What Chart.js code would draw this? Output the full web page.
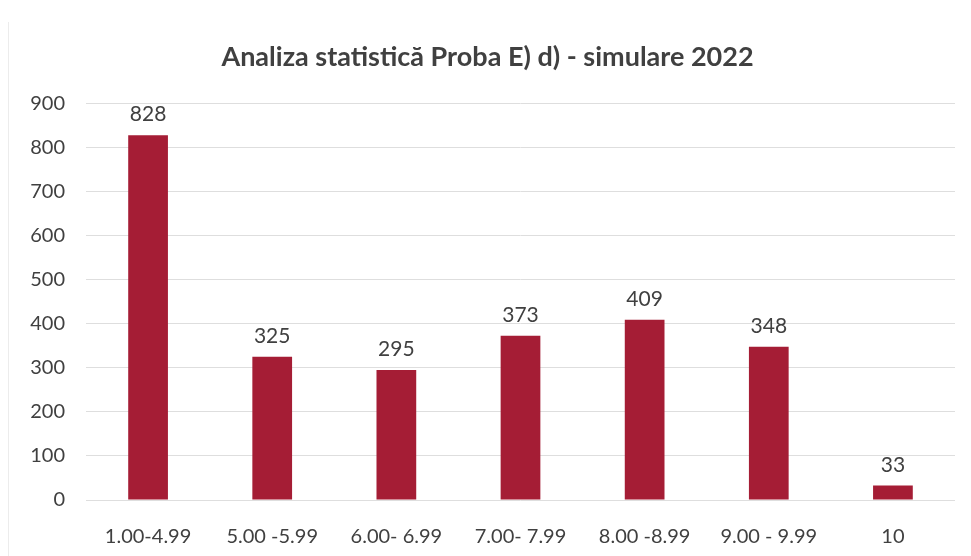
<!DOCTYPE html>
<html>
<head>
<meta charset="utf-8">
<script src="https://cdn.jsdelivr.net/npm/chart.js@4.4.1/dist/chart.umd.min.js"></script>
<style>
  html, body { margin: 0; padding: 0; background: #fff; }
  #wrap { position: relative; width: 971px; height: 556px; }
  #edge { position: absolute; left: 8px; top: 22px; width: 0; height: 534px; border-left: 1px solid #ececec; }
</style>
</head>
<body>
<div id="wrap">
  <div id="edge"></div>
  <canvas id="grades" width="971" height="556"></canvas>
</div>
<script>
// categories (grade intervals) and number of students
const intervals = ['1.00-4.99', '5.00 -5.99', '6.00- 6.99', '7.00- 7.99', '8.00 -8.99', '9.00 - 9.99', '10'];
const students = [828, 325, 295, 373, 409, 348, 33];
const yTicks = [0, 100, 200, 300, 400, 500, 600, 700, 800, 900];

const FONT = 'Lato, "Open Sans", sans-serif';

// draw the value above every bar
const valueLabels = {
  id: 'valueLabels',
  afterDatasetsDraw(chart) {
    const ctx = chart.ctx;
    const meta = chart.getDatasetMeta(0);
    ctx.save();
    ctx.font = '21px ' + FONT;
    ctx.fillStyle = '#404040';
    ctx.textAlign = 'center';
    ctx.textBaseline = 'bottom';
    meta.data.forEach((bar, i) => {
      ctx.fillText(students[i], bar.x, bar.y - 10);
    });
    ctx.restore();
  }
};

let gradesChart = new Chart(document.getElementById('grades'), {
  type: 'bar',
  data: {
    labels: intervals,
    datasets: [{
      label: 'Elevi',
      data: students,
      backgroundColor: '#a51d35',
      barPercentage: 0.64,
      categoryPercentage: 0.5
    }]
  },
  options: {
    responsive: false,
    animation: false,
    layout: {
      padding: { left: 20, right: 16, top: 0, bottom: 0 }
    },
    plugins: {
      legend: { display: false },
      tooltip: { enabled: false },
      title: {
        display: true,
        text: 'Analiza statistică Proba E) d) - simulare 2022',
        color: '#404040',
        font: { family: FONT, size: 27, weight: 'bold' },
        padding: { top: 41, bottom: 30 }
      }
    },
    scales: {
      y: {
        min: 0,
        max: 900,
        afterBuildTicks: (scale) => { scale.ticks = yTicks.map(v => ({ value: v })); },
        afterFit: (scale) => { scale.width = 66; },
        border: { display: false },
        grid: { color: '#dedede', lineWidth: 1, drawTicks: false },
        ticks: {
          color: '#404040',
          padding: 21,
          font: { family: FONT, size: 20 }
        }
      },
      x: {
        afterFit: (scale) => { scale.height = 56; },
        border: { display: false },
        grid: { display: false, drawTicks: false },
        ticks: {
          color: '#404040',
          padding: 25,
          maxRotation: 0,
          autoSkip: false,
          font: { family: FONT, size: 20 }
        }
      }
    }
  },
  plugins: [valueLabels]
});
</script>
</body>
</html>
